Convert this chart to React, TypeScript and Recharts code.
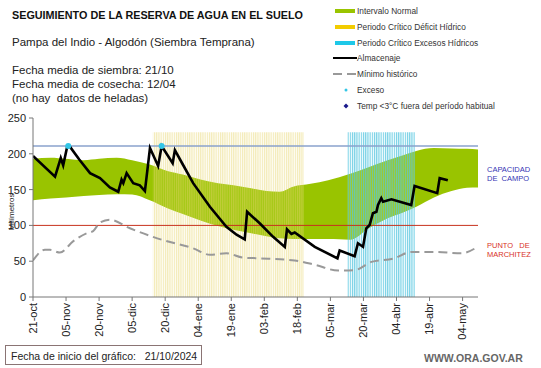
import { Area, ComposedChart, Line, ReferenceLine, Scatter, XAxis, YAxis } from "recharts";

const FONT = "'Liberation Sans', Arial, sans-serif";

// x axis: days since 21-oct
const tickDays = [0, 15, 30, 45, 60, 75, 90, 105, 120, 135, 150, 165, 180, 195];
const tickLabels = [
  "21-oct", "05-nov", "20-nov", "05-dic", "20-dic", "04-ene", "19-ene",
  "03-feb", "18-feb", "05-mar", "20-mar", "04-abr", "19-abr", "04-may",
];
const yTicks = [0, 50, 100, 150, 200, 250];

// almacenaje (mm)
const storageDays = [
  0, 10, 12.6, 13.7, 15.6, 16.5, 21, 25.9, 30.4, 34.9, 38.7, 40.2, 41, 42.5,
  45.5, 48.5, 50.8, 53.1, 56.8, 58.4, 63.4, 64.4, 68.2, 72.7, 80.3, 87.8, 92.4,
  96.1, 97.2, 102.9, 109, 114.3, 115.3, 117.3, 118.8, 127.9, 138.2, 139.2, 146,
  147.5, 149.8, 151.3, 152.8, 154.3, 155.9, 156.6, 158.1, 158.9, 162.7, 171.7,
  173.2, 183.5, 184.6, 188.3,
];
const storageValues = [
  197, 168, 194, 184, 211, 211, 192, 173, 166, 153, 147, 164, 159, 173,
  159, 156, 148, 208, 183, 211, 187, 205, 184, 159, 126, 98, 87,
  80.6, 119, 103, 84, 70, 94.5, 88, 90, 70, 54, 65, 57,
  75, 70, 96, 100.5, 117, 119, 128.5, 138, 133, 136.5, 128.5,
  155, 145, 166, 163,
];

// intervalo normal
const bandDays = [
  0, 8, 15, 23, 30, 38, 45, 53, 61, 68, 76, 84, 91, 99, 106, 112, 118, 126,
  134, 144, 152, 161, 168, 174, 182, 190, 197, 202,
];
const bandLow = [
  135, 137.5, 139, 141, 142.5, 143.5, 143, 135, 124, 116, 107, 99, 94, 89, 85,
  82, 81, 81, 81, 80, 95, 110, 118, 126, 139, 148, 152.5, 153,
];
const bandHigh = [
  193, 194.5, 193, 191, 193, 194.5, 191, 185, 176, 171, 164, 159, 156, 152, 148,
  147, 154, 158, 163, 172, 181, 191, 198, 204, 208, 207.5, 207, 206,
];

// mínimo histórico
const minDays = [
  0, 5.4, 7.7, 12.2, 18.3, 24.4, 27.3, 30.4, 34.9, 44, 58.4, 72.7, 80.3, 87.8,
  95.4, 103, 118.8, 128, 138.5, 146, 153.6, 164, 171.7, 182.3, 194.4, 201.8,
];
const minValues = [
  51, 66, 66, 62, 78, 89, 92, 104, 108, 96, 80, 68, 59, 61,
  55, 54, 51, 45, 37, 37.5, 49, 54, 63, 63, 61, 70,
];

const excessDays = [16, 58.4];
const excessValues = [211, 211];

const deficitPeriod = [54.4, 123];
const wetPeriod = [142.7, 173.4];
const periodTop = 230;
const fieldCapacity = 211;
const wiltingPoint = 100;

const storageData = storageDays.map((day, i) => ({ day, v: storageValues[i] }));
const bandData = bandDays.map((day, i) => ({ day, range: [bandLow[i], bandHigh[i]] }));
const minData = minDays.map((day, i) => ({ day, v: minValues[i] }));
const excessData = excessDays.map((day, i) => ({ day, v: excessValues[i] }));
const deficitData = deficitPeriod.map((day) => ({ day, top: periodTop }));
const wetData = wetPeriod.map((day) => ({ day, top: periodTop }));

function DateTick({ x, y, payload }: any) {
  const label = tickLabels[tickDays.indexOf(payload.value)];
  return (
    <text
      x={x}
      y={y}
      transform={`rotate(-90, ${x}, ${y})`}
      textAnchor="end"
      dy="0.35em"
      fontSize={11}
      fill="#222"
      fontFamily={FONT}
    >
      {label}
    </text>
  );
}

function LegendRow({ top, swatch, text }: { top: number; swatch: React.ReactNode; text: string }) {
  return (
    <div style={{ position: "absolute", left: 333, top: top - 6, height: 12, display: "flex", alignItems: "center" }}>
      <svg width={24} height={12} style={{ display: "block" }}>
        {swatch}
      </svg>
      <span style={{ fontSize: 8.3, color: "#333", whiteSpace: "nowrap" }}>{text}</span>
    </div>
  );
}

export default function App() {
  return (
    <div style={{ position: "absolute", left: 0, top: 0, width: 541, height: 368, background: "#fff", fontFamily: FONT }}>
      <ComposedChart width={541} height={368} margin={{ top: 118, right: 63, bottom: 26, left: 0 }}>
        <defs>
          <pattern id="stripesYellow" patternUnits="userSpaceOnUse" width={2.2} height={10}>
            <rect width={2.2} height={10} fill="#f6eeb0" fillOpacity={0.12} />
            <rect width={1.1} height={10} fill="#e8d468" fillOpacity={0.45} />
          </pattern>
          <pattern id="stripesCyan" patternUnits="userSpaceOnUse" width={2.2} height={10}>
            <rect width={2.2} height={10} fill="#c8eef6" fillOpacity={0.15} />
            <rect width={1.1} height={10} fill="#55c6e0" fillOpacity={0.8} />
          </pattern>
        </defs>
        <XAxis
          dataKey="day"
          type="number"
          domain={[0, 202]}
          allowDataOverflow
          ticks={tickDays}
          interval={0}
          height={45}
          tick={<DateTick />}
          tickSize={4}
          tickMargin={2}
          axisLine={{ stroke: "#777" }}
          tickLine={{ stroke: "#777" }}
        />
        <YAxis
          type="number"
          domain={[0, 250]}
          ticks={yTicks}
          width={33}
          tickSize={4}
          tickMargin={3}
          tick={{ fontSize: 11, fill: "#222", fontFamily: FONT }}
          axisLine={{ stroke: "#777" }}
          tickLine={{ stroke: "#777" }}
        />
        <Area
          data={bandData}
          dataKey="range"
          type="monotone"
          stroke="none"
          fill="#99c400"
          fillOpacity={1}
          isAnimationActive={false}
        />
        <Area
          data={deficitData}
          dataKey="top"
          type="linear"
          stroke="none"
          fill="url(#stripesYellow)"
          fillOpacity={1}
          isAnimationActive={false}
        />
        <Area
          data={wetData}
          dataKey="top"
          type="linear"
          stroke="none"
          fill="url(#stripesCyan)"
          fillOpacity={1}
          isAnimationActive={false}
        />
        <ReferenceLine y={fieldCapacity} stroke="#8aa2cc" strokeWidth={1.5} />
        <ReferenceLine y={wiltingPoint} stroke="#c8321e" strokeWidth={1} />
        <Line
          data={minData}
          dataKey="v"
          type="monotone"
          stroke="#999"
          strokeWidth={2}
          strokeDasharray="9 5"
          dot={false}
          activeDot={false}
          isAnimationActive={false}
        />
        <Line
          data={storageData}
          dataKey="v"
          type="linear"
          stroke="#000"
          strokeWidth={2.6}
          dot={false}
          activeDot={false}
          isAnimationActive={false}
        />
        <Scatter
          data={excessData}
          dataKey="v"
          fill="#33c6e6"
          shape={(p: any) => <circle cx={p.cx} cy={p.cy} r={3} fill="#33c6e6" />}
          isAnimationActive={false}
        />
      </ComposedChart>

      <div style={{ position: "absolute", left: 12, top: 9, fontSize: 10.8, fontWeight: "bold", color: "#111", whiteSpace: "nowrap" }}>
        SEGUIMIENTO DE LA RESERVA DE AGUA EN EL SUELO
      </div>
      <div style={{ position: "absolute", left: 12, top: 36, fontSize: 11.5, color: "#222", whiteSpace: "nowrap" }}>
        Pampa del Indio - Algodón (Siembra Temprana)
      </div>
      <div style={{ position: "absolute", left: 12, top: 63, fontSize: 11.5, lineHeight: "14px", color: "#222", whiteSpace: "nowrap" }}>
        <div>Fecha media de siembra: 21/10</div>
        <div>Fecha media de cosecha: 12/04</div>
        <div>(no hay&nbsp; datos de heladas)</div>
      </div>

      <LegendRow top={11} text="Intervalo Normal" swatch={<rect x={2} y={4} width={20} height={4} fill="#99c400" />} />
      <LegendRow top={27} text="Periodo Crítico Déficit Hídrico" swatch={<rect x={2} y={4} width={20} height={4} fill="#f2cc00" />} />
      <LegendRow top={43} text="Periodo Crítico Excesos Hídricos" swatch={<rect x={2} y={4} width={20} height={4} fill="#1ec8e8" />} />
      <LegendRow top={58} text="Almacenaje" swatch={<line x1={0} x2={24} y1={6} y2={6} stroke="#000" strokeWidth={2} />} />
      <LegendRow top={74} text="Mínimo histórico" swatch={<line x1={0} x2={24} y1={6} y2={6} stroke="#999" strokeWidth={2} strokeDasharray="9 5" />} />
      <LegendRow top={90} text="Exceso" swatch={<circle cx={13} cy={6} r={1.5} fill="#33c6e6" />} />
      <LegendRow top={106} text="Temp <3°C fuera del período habitual" swatch={<polygon points="13,3.5 15.5,6 13,8.5 10.5,6" fill="#1a1a8c" />} />

      <div
        style={{
          position: "absolute",
          left: 11,
          top: 212,
          fontSize: 8,
          color: "#222",
          transform: "translate(-50%, -50%) rotate(-90deg)",
          whiteSpace: "nowrap",
        }}
      >
        Milímetros
      </div>

      <div style={{ position: "absolute", left: 487, top: 165, fontSize: 7.5, lineHeight: "9px", color: "#3535b5", whiteSpace: "pre" }}>
        {"CAPACIDAD\nDE  CAMPO"}
      </div>
      <div style={{ position: "absolute", left: 487, top: 241, fontSize: 7.5, lineHeight: "9px", color: "#d83228", whiteSpace: "pre" }}>
        {"PUNTO   DE\nMARCHITEZ"}
      </div>

      <div
        style={{
          position: "absolute",
          left: 5,
          top: 345,
          width: 197,
          height: 20,
          border: "1px solid #8a7474",
          fontSize: 10.5,
          lineHeight: "20px",
          color: "#222",
          paddingLeft: 5,
          boxSizing: "border-box",
          whiteSpace: "pre",
        }}
      >
        {"Fecha de inicio del gráfico:   21/10/2024"}
      </div>
      <div style={{ position: "absolute", left: 424, top: 352, fontSize: 10.5, fontWeight: "bold", color: "#666", whiteSpace: "nowrap" }}>
        WWW.ORA.GOV.AR
      </div>
    </div>
  );
}
